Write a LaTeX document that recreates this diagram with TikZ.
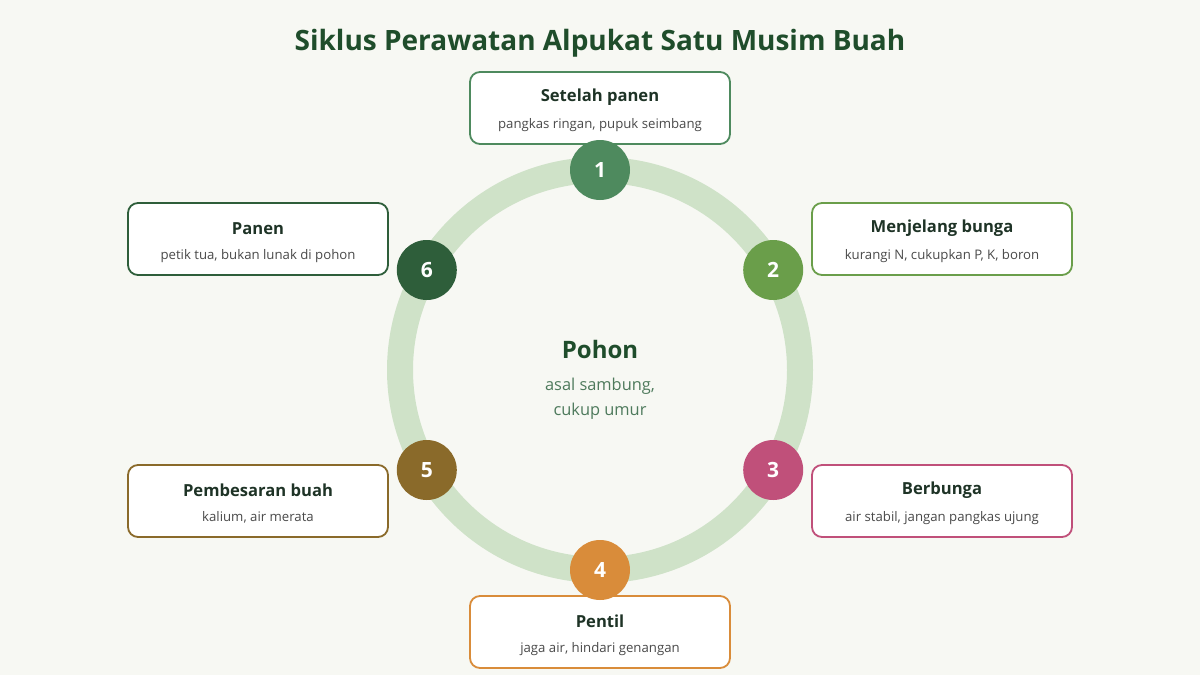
\documentclass[tikz,border=0pt]{standalone}
\usepackage{fontspec}
\setmainfont{Open Sans}
\usetikzlibrary{positioning, calc}
\definecolor{pagebg}{HTML}{F7F8F3}
\definecolor{ringgreen}{HTML}{CFE2C8}
\definecolor{darkgreen}{HTML}{1F4D2B}
\definecolor{midgreen}{HTML}{4E7A5C}
\definecolor{headtext}{HTML}{1E3326}
\definecolor{subtext}{HTML}{4A4A4A}
\definecolor{cA}{HTML}{4E8A5E}
\definecolor{cB}{HTML}{6A9E4A}
\definecolor{cC}{HTML}{C0507A}
\definecolor{cD}{HTML}{D98C3A}
\definecolor{cE}{HTML}{8A6A2A}
\definecolor{cF}{HTML}{2E5E3A}
\tikzset{
	stepdot/.style={circle, minimum size=30pt, inner sep=0pt, fill=#1, text=white,
			font=\bfseries\fontsize{10.5}{12}\selectfont},
	stepbox/.style={draw=#1, line width=0.9pt, rounded corners=5pt, fill=white,
			minimum width=130pt, minimum height=36pt, inner sep=0pt},
	boxhead/.style={text=headtext, font=\bfseries\fontsize{8.3}{10}\selectfont},
	boxsub/.style={text=subtext, font=\fontsize{6.6}{8}\selectfont},
}
\begin{document}
\begin{tikzpicture}[x=0.5pt, y=-0.5pt]
		\fill[pagebg] (0,0) rectangle (1200,675);
		\useasboundingbox (0,0) rectangle (1200,675);
		\node[text=darkgreen, font=\bfseries\fontsize{14}{17}\selectfont] (title) at (600,43)
			{Siklus Perawatan Alpukat Satu Musim Buah};
		% ring
		\coordinate (hub) at (600,370);
		\draw[ringgreen, line width=13pt] (hub) circle (200);
		\node[text=darkgreen, font=\bfseries\fontsize{12}{14}\selectfont] (tree) at (600,349) {Pohon};
		\node[text=midgreen, font=\fontsize{8.2}{12.5}\selectfont, align=center, below=3pt of tree] (treesub)
			{asal sambung,\\cukup umur};
		% steps
		\foreach \i/\a/\bx/\by/\col/\head/\sub in {
				1/90/600/108/cA/{Setelah panen}/{pangkas ringan, pupuk seimbang},
				2/30/942/239/cB/{Menjelang bunga}/{kurangi N, cukupkan P, K, boron},
				3/-30/942/501/cC/{Berbunga}/{air stabil, jangan pangkas ujung},
				4/-90/600/632/cD/{Pentil}/{jaga air, hindari genangan},
				5/-150/258/501/cE/{Pembesaran buah}/{kalium, air merata},
				6/150/258/239/cF/{Panen}/{petik tua, bukan lunak di pohon}} {
				\node[stepbox=\col] (box\i) at (\bx,\by) {};
				\node[boxhead] (head\i) at ([yshift=5.2pt]box\i.center) {\head};
				\node[boxsub] (sub\i) at ([yshift=-8.4pt]box\i.center) {\sub};
				\node[stepdot=\col] (dot\i) at ($(hub)+({200*cos(\a)},{-200*sin(\a)})$) {\i};
			}
	\end{tikzpicture}
\end{document}
